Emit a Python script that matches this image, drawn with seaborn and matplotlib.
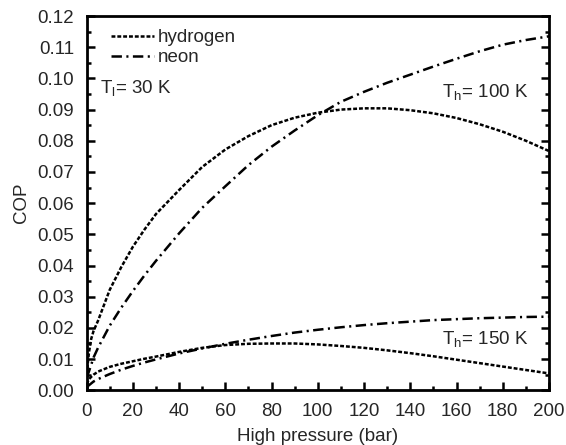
import numpy as np
import pandas as pd
import matplotlib
matplotlib.use("Agg")
import matplotlib.pyplot as plt
from matplotlib.ticker import MultipleLocator, FormatStrFormatter
import seaborn as sns

# ---------------------------------------------------------------------------
# Data
# ---------------------------------------------------------------------------
pressure = [0, 1, 2, 3, 5, 10, 15, 20, 25, 30, 40, 50, 60, 70, 80, 90, 100,
            110, 120, 130, 140, 150, 160, 170, 180, 190, 200]

h2_100 = [0.005, 0.012, 0.0165, 0.019, 0.0224, 0.0322, 0.0395, 0.046, 0.0515,
          0.0565, 0.0642, 0.0716, 0.0772, 0.0815, 0.0850, 0.0874, 0.0890,
          0.0900, 0.0904, 0.0904, 0.0898, 0.0888, 0.0873, 0.0853, 0.0829,
          0.0800, 0.0767]
ne_100 = [0.004, 0.006, 0.0082, 0.0105, 0.0137, 0.0207, 0.0265, 0.0318,
          0.0368, 0.0415, 0.0503, 0.0585, 0.0654, 0.0722, 0.0781, 0.0833,
          0.0882, 0.0925, 0.0957, 0.0986, 0.1012, 0.1038, 0.1063, 0.1087,
          0.1108, 0.1123, 0.1135]
h2_150 = [0.002, 0.0035, 0.0043, 0.005, 0.006, 0.0075, 0.0085, 0.0093, 0.0101,
          0.0108, 0.0123, 0.0136, 0.0145, 0.0149, 0.0150, 0.0150, 0.0147,
          0.0142, 0.0136, 0.0128, 0.0119, 0.0109, 0.0098, 0.0087, 0.0076,
          0.0065, 0.0054]
ne_150 = [0.001, 0.0016, 0.0022, 0.0028, 0.0036, 0.0052, 0.0066, 0.0078,
          0.0089, 0.0099, 0.0118, 0.0134, 0.0149, 0.0162, 0.0174, 0.0185,
          0.0194, 0.0202, 0.0209, 0.0215, 0.0220, 0.0225, 0.0228, 0.0231,
          0.0233, 0.0235, 0.0236]

series = {
    ("hydrogen", "100 K"): h2_100,
    ("neon", "100 K"): ne_100,
    ("hydrogen", "150 K"): h2_150,
    ("neon", "150 K"): ne_150,
}

rows = []
for (gas, temp), vals in series.items():
    for p, v in zip(pressure, vals):
        rows.append({"pressure": p, "cop": v, "gas": gas, "temp": temp})
df = pd.DataFrame(rows)

# ---------------------------------------------------------------------------
# Style
# ---------------------------------------------------------------------------
sns.set_style("ticks")
plt.rcParams["font.family"] = ["Liberation Sans", "DejaVu Sans"]
plt.rcParams["lines.scale_dashes"] = False
plt.rcParams["mathtext.fontset"] = "custom"
plt.rcParams["mathtext.rm"] = "Liberation Sans"
plt.rcParams["mathtext.it"] = "Liberation Sans"

fig = plt.figure(figsize=(5.66, 4.45), dpi=100)
ax = fig.add_axes([0.153, 0.123, 0.817, 0.841])

sns.lineplot(data=df, x="pressure", y="cop", style="gas", units="temp",
             estimator=None, color="black", linewidth=1.8,
             dashes={"hydrogen": (2.8, 1.4), "neon": (7.5, 3.2, 1.5, 3.2)},
             style_order=["hydrogen", "neon"], ax=ax)

ax.set_xlim(0, 200)
ax.set_ylim(0, 0.12)
ax.xaxis.set_major_locator(MultipleLocator(20))
ax.xaxis.set_minor_locator(MultipleLocator(10))
ax.yaxis.set_major_locator(MultipleLocator(0.01))
ax.yaxis.set_minor_locator(MultipleLocator(0.005))
ax.yaxis.set_major_formatter(FormatStrFormatter("%.2f"))

ax.tick_params(axis="both", which="both", direction="in", labelsize=13.5,
               width=1.8, color="black", pad=9)
ax.tick_params(axis="both", which="major", length=6)
ax.tick_params(axis="both", which="minor", length=3)
ax.tick_params(axis="y", which="both", left=True, right=True)
ax.tick_params(axis="x", which="both", bottom=True, top=False)
for s in ax.spines.values():
    s.set_linewidth(2.0)
    s.set_color("black")

ax.set_xlabel("High pressure (bar)", fontsize=13.5, labelpad=6)
ax.set_ylabel("COP", fontsize=13.5, labelpad=5)

leg = ax.legend(loc="upper left", frameon=False, fontsize=13.5,
                handlelength=2.3, handletextpad=0.2, labelspacing=0.15,
                borderaxespad=0.3, bbox_to_anchor=(0.025, 1.0))
for line in leg.get_lines():
    line.set_linewidth(1.8)

ax.text(6, 0.0968, r"T$_\mathregular{l}$= 30 K", fontsize=13.5, va="center")
ax.text(191, 0.0957, r"T$_\mathregular{h}$= 100 K", fontsize=13.5,
        va="center", ha="right")
ax.text(191, 0.0163, r"T$_\mathregular{h}$= 150 K", fontsize=13.5,
        va="center", ha="right")

fig.savefig("out.png", dpi=100)
